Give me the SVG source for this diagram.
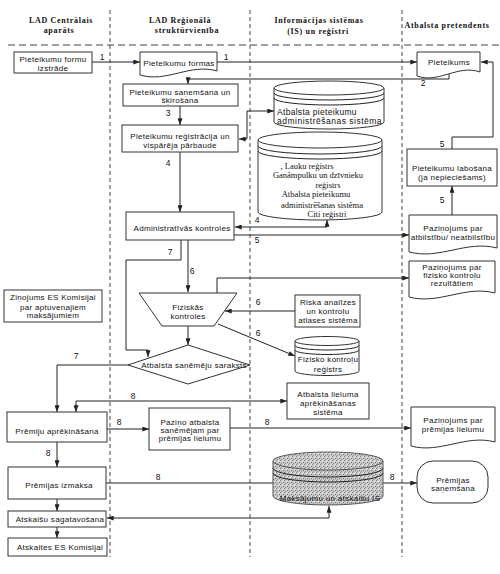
<svg xmlns="http://www.w3.org/2000/svg" width="500" height="574" viewBox="0 0 500 574">
<style>
.ln{fill:none;stroke:#222;stroke-width:1}
.arr{marker-end:url(#ah)}
.arr2{marker-start:url(#ah);marker-end:url(#ah)}
.bx{fill:#fff;stroke:#333;stroke-width:1}
.dv{fill:none;stroke:#444;stroke-width:1;stroke-dasharray:4 3}
.dh{fill:none;stroke:#444;stroke-width:1;stroke-dasharray:7 4}
.t{font-family:"Liberation Sans",Arial,sans-serif;font-size:8px;letter-spacing:0.3px;fill:#111;text-anchor:middle}
.s{font-family:"Liberation Serif","Times New Roman",serif;font-size:8.5px;fill:#111;text-anchor:middle}
.h{font-family:"Liberation Serif","Times New Roman",serif;font-size:8px;font-weight:bold;letter-spacing:0.7px;fill:#111;text-anchor:middle}
.n{font-family:"Liberation Sans",Arial,sans-serif;font-size:8.5px;fill:#111;text-anchor:middle;stroke:none}
</style>
<defs>
<marker id="ah" viewBox="0 0 8 6" refX="8" refY="3" markerWidth="7" markerHeight="5" orient="auto-start-reverse" markerUnits="userSpaceOnUse"><path d="M0,0 L8,3 L0,6 z" fill="#222"/></marker>
<pattern id="stip" width="4" height="4" patternUnits="userSpaceOnUse"><rect width="4" height="4" fill="#c6c6c6"/><rect x="0" y="0" width="1" height="1" fill="#888"/><rect x="2" y="1" width="1" height="1" fill="#eee"/><rect x="1" y="3" width="1" height="1" fill="#999"/><rect x="3" y="2" width="1" height="1" fill="#777"/><rect x="3" y="0" width="1" height="1" fill="#e4e4e4"/></pattern>
</defs>
<rect width="500" height="574" fill="#fff"/>

<g id="lanes">
<path class="dv" d="M110,10 V557 M250,10 V557 M402,10 V557"/>
<path class="dh" d="M8,45 H500"/>
<text class="h" x="61" y="23">LAD Centrālais</text>
<text class="h" x="59" y="33">aparāts</text>
<text class="h" x="180" y="23">LAD Reģionālā</text>
<text class="h" x="187" y="33">struktūrvienība</text>
<text class="h" x="319" y="23">Informācijas sistēmas</text>
<text class="h" x="318" y="34">(IS) un reģistri</text>
<text class="h" x="447" y="28">Atbalsta pretendents</text>
</g>

<g id="connectors" class="ln">
<path class="arr" d="M92,62 H140"/>
<path class="arr" d="M217,62 H417"/>
<path class="arr" d="M449,74 V79 H188 V84"/>
<path class="arr" d="M180,106 V125"/>
<path class="arr2" d="M239,139 H247 V111 H274"/>
<path class="arr" d="M180,152 V212"/>
<path class="arr" d="M452,149 V137 H493 V62 H481"/>
<path class="arr" d="M452,215 V186"/>
<path class="arr2" d="M235,227 H327 V220"/>
<path class="arr" d="M234,235 H409"/>
<path class="arr" d="M181,240 V260 H126 V350 H148 V357"/>
<path class="arr" d="M188,240 V292"/>
<path class="arr" d="M188,326 V345"/>
<path class="arr" d="M217,293 V278 H409"/>
<path class="arr" d="M295,311 H225"/>
<path class="arr" d="M218,324 L295,356"/>
<path class="arr" d="M128,365 H57 V412"/>
<path class="arr2" d="M76,412 V401 H287"/>
<path class="arr" d="M107,429 H149"/>
<path class="arr" d="M230,428 H411"/>
<path class="arr" d="M57,442 V467"/>
<path class="arr" d="M106,483 H417"/>
<path class="arr" d="M57,499 V511"/>
<path class="arr" d="M57,527 V538"/>
<path class="arr2" d="M329,506 V518 H107"/>
<text class="n" x="102" y="60">1</text>
<text class="n" x="226" y="60">1</text>
<text class="n" x="423" y="86">2</text>
<text class="n" x="168" y="116">3</text>
<text class="n" x="168" y="166">4</text>
<text class="n" x="442" y="147">5</text>
<text class="n" x="442" y="203">5</text>
<text class="n" x="257" y="223">4</text>
<text class="n" x="257" y="243">5</text>
<text class="n" x="170" y="255">7</text>
<text class="n" x="192" y="274">6</text>
<text class="n" x="258" y="305">6</text>
<text class="n" x="258" y="336">6</text>
<text class="n" x="76" y="359">7</text>
<text class="n" x="133" y="399">8</text>
<text class="n" x="119" y="425">8</text>
<text class="n" x="267" y="425">8</text>
<text class="n" x="48" y="456">8</text>
<text class="n" x="158" y="480">8</text>
<text class="n" x="392" y="480">8</text>
</g>

<g id="n-formu-izstrade"><rect class="bx" x="14" y="52" width="78" height="21"/><text class="t" x="53" y="62">Pieteikumu formu</text><text class="t" x="53" y="71">izstrāde</text></g>
<g id="n-formas"><path class="bx" d="M140,52 H217 V71 C190,63 167,83 140,75 Z"/><text class="t" x="179" y="66">Pieteikumu formas</text></g>
<g id="n-pieteikums"><path class="bx" d="M417,52 H480 V72 C458,64 439,84 417,76 Z"/><text class="t" x="449" y="65">Pieteikums</text></g>
<g id="n-sanemsana"><rect class="bx" x="123" y="84" width="115" height="22"/><text class="t" x="180" y="95">Pieteikumu saņemšana un</text><text class="t" x="180" y="103">šķirošana</text></g>
<g id="n-registracija"><rect class="bx" x="122" y="125" width="116" height="27"/><text class="t" x="180" y="139">Pieteikumu reģistrācija un</text><text class="t" x="180" y="148">vispārēja pārbaude</text></g>
<g id="n-admin"><rect class="bx" x="126" y="212" width="108" height="28"/><text class="t" x="182" y="231">Administratīvās kontroles</text></g>
<g id="n-cyl-apas">
<path class="bx" d="M274,88 V122 A55,7 0 0 0 384,122 V88 Z"/>
<ellipse class="bx" cx="329" cy="88" rx="55" ry="7"/>
<path class="ln" d="M274,93 A55,7 0 0 0 384,93 M274,98 A55,7 0 0 0 384,98"/>
<text class="t" style="text-anchor:start;font-size:8.5px" x="277" y="115">Atbalsta pieteikumu</text>
<text class="t" style="text-anchor:start;font-size:8.5px;letter-spacing:0.5px" x="277" y="124">administrēšanas sistēma</text>
</g>
<g id="n-cyl-registri">
<path class="bx" d="M258,140 V212 A62,8 0 0 0 382,212 V140 Z"/>
<ellipse class="bx" cx="320" cy="140" rx="62" ry="8"/>
<path class="ln" d="M258,146 A62,8 0 0 0 382,146 M258,151 A62,8 0 0 0 382,151"/>
<text class="s" x="307" y="169">, Lauku reģistrs</text>
<text class="s" x="318" y="178">Ganāmpulku un dzīvnieku</text>
<text class="s" x="328" y="188">reģistrs</text>
<text class="s" x="316" y="197">Atbalsta pieteikumu</text>
<text class="s" x="322" y="208">administrēšanas sistēma</text>
<text class="s" x="327" y="217">Citi reģistri</text>
</g>
<g id="n-labosana"><rect class="bx" x="407" y="149" width="90" height="37"/><text class="t" x="452" y="171">Pieteikumu labošana</text><text class="t" x="452" y="180">(ja nepieciešams)</text></g>
<g id="n-pazin-atbilst"><path class="bx" d="M409,215 H497 V248 C466,240 440,260 409,252 Z"/><text class="t" x="453" y="231">Paziņojums par</text><text class="t" x="453" y="240">atbilstību/ neatbilstību</text></g>
<g id="n-pazin-fiz"><path class="bx" d="M409,261 H495 V293 C465,285 439,305 409,297 Z"/><text class="t" x="452" y="270">Paziņojums par</text><text class="t" x="452" y="278">fizisko kontroļu</text><text class="t" x="452" y="286">rezultātiem</text></g>
<g id="n-fiziskas"><polygon class="bx" points="139,293 237,293 214,326 162,326"/><text class="t" x="188" y="310">Fiziskās</text><text class="t" x="188" y="319">kontroles</text></g>
<g id="n-riska"><rect class="bx" x="295" y="295" width="65" height="32"/><text class="t" x="328" y="305">Riska analīzes</text><text class="t" x="328" y="314">un kontroļu</text><text class="t" x="328" y="323">atlases sistēma</text></g>
<g id="n-cyl-fiz">
<path class="bx" d="M295,341 V371 A32,4.5 0 0 0 359,371 V341 Z"/>
<ellipse class="bx" cx="327" cy="341" rx="32" ry="4.5"/>
<path class="ln" d="M295,345.5 A32,4.5 0 0 0 359,345.5 M295,350 A32,4.5 0 0 0 359,350"/>
<text class="t" x="328" y="362">Fizisko kontroļu</text><text class="t" x="328" y="372">reģistrs</text>
</g>
<g id="n-zinojums"><rect class="bx" x="4" y="290" width="98" height="32"/><text class="t" x="53" y="300">Ziņojums ES Komisijai</text><text class="t" x="53" y="310">par aptuvenajiem</text><text class="t" x="53" y="318">maksājumiem</text></g>
<g id="n-saraksts"><polygon class="bx" points="188,345 250,365 188,384 128,365"/><text class="t" x="194" y="368">Atbalsta saņēmēju saraksts</text></g>
<g id="n-lieluma"><rect class="bx" x="287" y="383" width="82" height="36"/><text class="t" x="328" y="397">Atbalsta lieluma</text><text class="t" x="328" y="406">aprēķināšanas</text><text class="t" x="328" y="415">sistēma</text></g>
<g id="n-aprekinasana"><rect class="bx" x="7" y="412" width="100" height="30"/><text class="t" x="57" y="434">Prēmiju aprēķināšana</text></g>
<g id="n-pazino"><rect class="bx" x="149" y="408" width="81" height="42"/><text class="t" x="190" y="425">Paziņo atbalsta</text><text class="t" x="190" y="433">saņēmējam par</text><text class="t" x="190" y="441">prēmijas lielumu</text></g>
<g id="n-pazin-premija"><path class="bx" d="M411,407 H495 V442 C466,434 440,454 411,446 Z"/><text class="t" x="453" y="423">Paziņojums par</text><text class="t" x="453" y="432">prēmijas lielumu</text></g>
<g id="n-izmaksa"><rect class="bx" x="8" y="467" width="98" height="32"/><text class="t" x="59" y="488">Prēmijas izmaksa</text></g>
<g id="n-cyl-maks">
<path d="M273,461 V496 A55,9 0 0 0 383,496 V461 Z" fill="url(#stip)" stroke="#555"/>
<ellipse cx="328" cy="461" rx="55" ry="9" fill="url(#stip)" stroke="#555"/>
<path class="ln" stroke="#555" d="M273,468 A55,9 0 0 0 383,468 M273,473 A55,9 0 0 0 383,473"/>
<text class="t" x="330" y="501">Maksājumu un atskaišu IS</text>
</g>
<g id="n-sanemsana-prem"><rect class="bx" x="417" y="461" width="71" height="42" rx="16"/><text class="t" x="453" y="483">Prēmijas</text><text class="t" x="453" y="491">saņemšana</text></g>
<g id="n-atskaisu"><rect class="bx" x="8" y="511" width="98" height="16"/><text class="t" x="60" y="522">Atskaišu sagatavošana</text></g>
<g id="n-atskaites"><rect class="bx" x="8" y="538" width="99" height="18"/><text class="t" x="60" y="550">Atskaites ES Komisijai</text></g>
</svg>
